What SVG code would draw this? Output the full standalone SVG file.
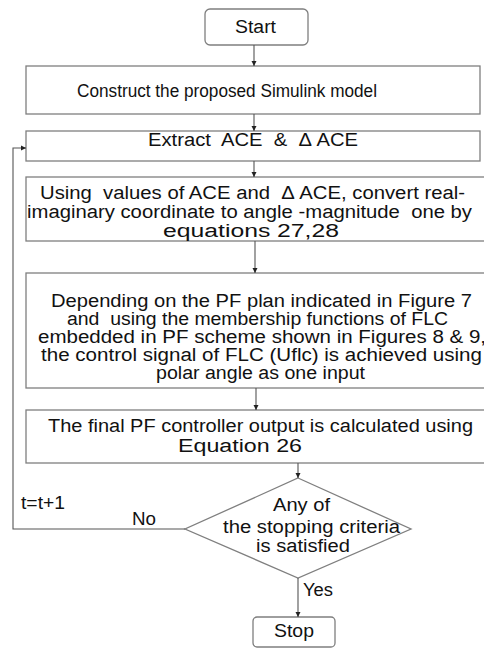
<svg xmlns="http://www.w3.org/2000/svg" width="484" height="648" viewBox="0 0 484 648">
<style>
.b{fill:#fff;stroke:#7f7f7f;stroke-width:1.3}
.t{font-family:"Liberation Sans",Arial,sans-serif;font-size:18px;fill:#111}
.c{fill:none;stroke:#555;stroke-width:1.1}
</style>
<defs>
<marker id="a" markerWidth="6" markerHeight="6" refX="5" refY="3" orient="auto" markerUnits="userSpaceOnUse">
<path d="M0,0.5 L5,3 L0,5.5 Z" fill="#222"/>
</marker>
</defs>
<rect width="484" height="648" fill="#fff"/>
<g id="start"><rect class="b" x="205" y="9" width="103" height="36" rx="5"/><text class="t" x="235" y="33" textLength="41" lengthAdjust="spacingAndGlyphs">Start</text></g>
<g id="construct"><rect class="b" x="26" y="66" width="454" height="48"/><text class="t" x="77" y="96.5" textLength="300" lengthAdjust="spacingAndGlyphs">Construct the proposed Simulink model</text></g>
<g id="extract"><rect class="b" x="26" y="131" width="454" height="30"/><text class="t" x="148" y="145.5" textLength="210" lengthAdjust="spacingAndGlyphs" xml:space="preserve">Extract  ACE  &amp;  Δ ACE</text></g>
<g id="convert"><rect class="b" x="26" y="177" width="470" height="64"/>
<text class="t" x="40" y="199" textLength="425" lengthAdjust="spacingAndGlyphs" xml:space="preserve">Using  values of ACE and  Δ ACE, convert real-</text>
<text class="t" x="27" y="218" textLength="445" lengthAdjust="spacingAndGlyphs" xml:space="preserve">imaginary coordinate to angle -magnitude  one by</text>
<text class="t" x="163" y="237" textLength="176" lengthAdjust="spacingAndGlyphs">equations 27,28</text></g>
<g id="flc"><rect class="b" x="26" y="273" width="470" height="115"/>
<text class="t" x="51" y="307" textLength="421" lengthAdjust="spacingAndGlyphs">Depending on the PF plan indicated in Figure 7</text>
<text class="t" x="67" y="325" textLength="381" lengthAdjust="spacingAndGlyphs" xml:space="preserve">and  using the membership functions of FLC</text>
<text class="t" x="38" y="343" textLength="448" lengthAdjust="spacingAndGlyphs">embedded in PF scheme shown in Figures 8 &amp; 9,</text>
<text class="t" x="41" y="361" textLength="441" lengthAdjust="spacingAndGlyphs">the control signal of FLC (Uflc) is achieved using</text>
<text class="t" x="156" y="379" textLength="209" lengthAdjust="spacingAndGlyphs">polar angle as one input</text></g>
<g id="final"><rect class="b" x="26" y="410" width="470" height="53"/>
<text class="t" x="48" y="432" textLength="425" lengthAdjust="spacingAndGlyphs">The final PF controller output is calculated using</text>
<text class="t" x="178" y="452" textLength="124" lengthAdjust="spacingAndGlyphs">Equation 26</text></g>
<g id="decision"><polygon class="b" points="298,478 411,529 298,578 185,529"/>
<text class="t" x="273" y="511" textLength="57" lengthAdjust="spacingAndGlyphs">Any of</text>
<text class="t" x="223" y="533" textLength="177" lengthAdjust="spacingAndGlyphs">the stopping criteria</text>
<text class="t" x="256" y="552" textLength="94" lengthAdjust="spacingAndGlyphs">is satisfied</text></g>
<g id="stop"><rect class="b" x="253" y="617" width="82" height="30" rx="4"/><text class="t" x="274" y="637" textLength="40" lengthAdjust="spacingAndGlyphs">Stop</text></g>
<g id="connectors">
<line class="c" x1="254" y1="45" x2="254" y2="66" marker-end="url(#a)"/>
<line class="c" x1="254" y1="114" x2="254" y2="131" marker-end="url(#a)"/>
<line class="c" x1="254" y1="161" x2="254" y2="177" marker-end="url(#a)"/>
<line class="c" x1="255" y1="241" x2="255" y2="273" marker-end="url(#a)"/>
<line class="c" x1="256" y1="388" x2="256" y2="410" marker-end="url(#a)"/>
<line class="c" x1="298" y1="463" x2="298" y2="478" marker-end="url(#a)"/>
<line class="c" x1="298" y1="578" x2="298" y2="617" marker-end="url(#a)"/>
<polyline class="c" points="185,529 13,529 13,148 26,148" marker-end="url(#a)"/>
<text class="t" x="132" y="525" textLength="24" lengthAdjust="spacingAndGlyphs">No</text>
<text class="t" x="21" y="509" textLength="44" lengthAdjust="spacingAndGlyphs">t=t+1</text>
<text class="t" x="303" y="596" textLength="30" lengthAdjust="spacingAndGlyphs">Yes</text>
</g>
</svg>
